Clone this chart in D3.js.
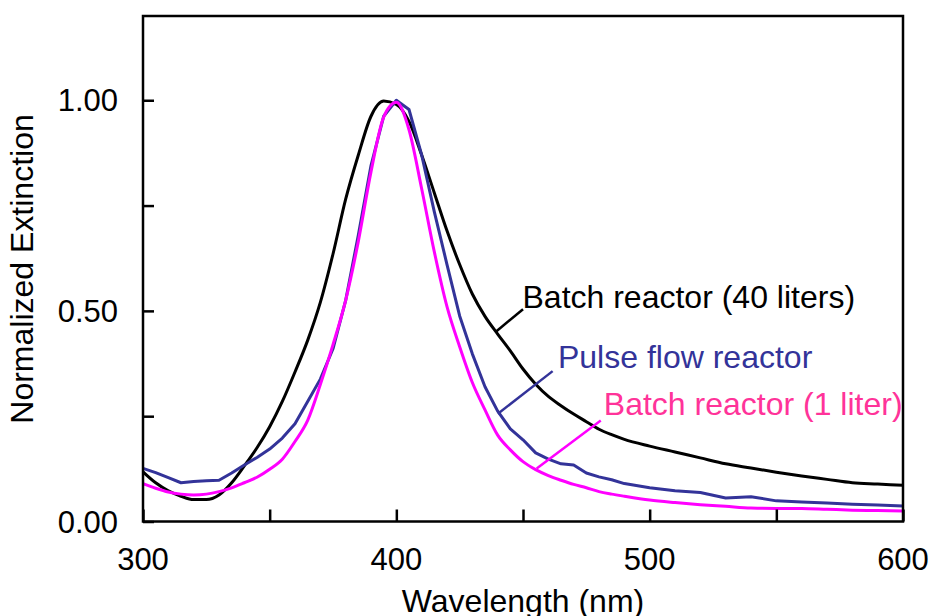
<!DOCTYPE html>
<html lang="en">
<head>
    <meta charset="UTF-8">
    <title>Normalized Extinction</title>
    <script src="https://d3js.org/d3.v7.min.js"></script>
    <style>
        body { margin:0; background:white; }
        text { font-family:"Liberation Sans", Arial, sans-serif; }
        .series { fill:none; stroke-width:3; stroke-linejoin:round; }
    </style>
</head>
<body>
    <script>
        // wavelength grid (nm) and normalized extinction
        var wavelengths = [300,305,310,315,320,325,330,335,340,345,350,355,360,365,370,375,380,385,390,395,
                           400,405,410,415,420,425,430,435,440,445,450,455,460,465,470,475,480,485,490,
                           500,510,520,530,540,550,560,570,580,590,600];

        var batch40 = [0.118,0.092,0.073,0.060,0.052,0.052,0.063,0.092,0.132,0.175,0.225,0.285,0.355,0.430,0.520,0.635,0.765,0.870,0.962,0.998,
                       0.990,0.950,0.870,0.780,0.690,0.610,0.540,0.487,0.445,0.405,0.362,0.326,0.297,0.275,0.255,0.237,0.219,0.206,0.195,
                       0.179,0.165,0.151,0.137,0.127,0.117,0.108,0.100,0.092,0.089,0.086];

        var pulseFlow = [0.126,0.116,0.104,0.092,0.095,0.097,0.098,0.115,0.134,0.152,0.172,0.198,0.232,0.285,0.338,0.410,0.525,0.680,0.845,0.962,
                         1.000,0.978,0.870,0.735,0.610,0.488,0.398,0.320,0.262,0.220,0.194,0.163,0.148,0.137,0.134,0.115,0.106,0.099,0.090,
                         0.080,0.073,0.069,0.056,0.059,0.049,0.046,0.044,0.041,0.039,0.037];

        var batch1 = [0.090,0.079,0.070,0.065,0.063,0.065,0.071,0.080,0.092,0.105,0.124,0.148,0.190,0.240,0.325,0.420,0.525,0.665,0.830,0.960,
                      0.995,0.930,0.790,0.640,0.510,0.415,0.330,0.265,0.205,0.170,0.142,0.123,0.109,0.098,0.088,0.080,0.071,0.065,0.060,
                      0.051,0.045,0.040,0.036,0.032,0.031,0.031,0.029,0.027,0.026,0.025];

        var xTicks = [300,350,400,450,500,550,600];
        var xLabels = [300,400,500,600];
        var yTicks = [0,0.25,0.5,0.75,1.0];
        var yLabels = [0,0.5,1.0];

        var seriesNames = ["Batch reactor (40 liters)","Pulse flow reactor","Batch reactor (1 liter)"];
        var seriesColors = ["#000000","#333399","#ff00ff"];
        var labelColors = ["#000000","#333399","#ff3399"];
        // label anchor [wavelength, extinction] and leader line from curve to label
        var labelAt = [[449.8,0.508],[463.8,0.365],[481.9,0.252]];
        var leaderFrom = [[439.4,0.451],[440.1,0.256],[455.4,0.126]];
        var leaderTo = [[450.0,0.504],[461.7,0.357],[480.7,0.240]];

        var width = 931, height = 616;
        var margin = {left:143, top:16, right:28, bottom:94.5};
        var w = width - margin.left - margin.right, h = height - margin.top - margin.bottom;

        var xscale = d3.scaleLinear().domain([300,600]).range([0,w]);
        var yscale = d3.scaleLinear().domain([0,1.2]).range([h,0]);

        var svg = d3.select("body").append("svg").attr("width",width).attr("height",height)
                    .append("g").attr("transform","translate("+margin.left+","+margin.top+")");

        var line = d3.line().x((d,i)=>xscale(wavelengths[i])).y(d=>yscale(d));
        var allSeries = [batch40, pulseFlow, batch1];

        allSeries.forEach((s,k)=>{
            line.curve(k==1 ? d3.curveLinear : d3.curveMonotoneX);
            svg.append("path").attr("class","series").attr("d",line(s)).style("stroke",seriesColors[k]);
        });

        // frame
        svg.append("rect").attr("width",w).attr("height",h)
           .style("fill","none").style("stroke","black").style("stroke-width",2.5);

        // inward ticks
        var xaxis = d3.axisBottom(xscale).tickValues(xTicks).tickSize(-12).tickFormat("");
        var yaxis = d3.axisLeft(yscale).tickValues(yTicks).tickSize(-11).tickFormat("");
        var gx = svg.append("g").attr("transform","translate(0,"+h+")").call(xaxis);
        var gy = svg.append("g").call(yaxis);
        [gx,gy].forEach(g=>{
            g.select(".domain").remove();
            g.selectAll("line").style("stroke","black").style("stroke-width",2.5);
        });

        svg.selectAll(".xl").data(xLabels).enter().append("text")
           .attr("x",d=>xscale(d)).attr("y",h+48.5).attr("text-anchor","middle")
           .style("font-size","31px").text(d=>d);

        svg.selectAll(".yl").data(yLabels).enter().append("text")
           .attr("x",-25).attr("y",d=>yscale(d)+11).attr("text-anchor","end")
           .style("font-size","31px").text(d=>d3.format(".2f")(d));

        svg.append("text").attr("x",w/2).attr("y",h+90).attr("text-anchor","middle")
           .style("font-size","32px").text("Wavelength (nm)");

        svg.append("text").attr("transform","translate(-110,"+(253)+") rotate(-90)")
           .attr("text-anchor","middle").style("font-size","32px").text("Normalized Extinction");

        // annotations
        seriesNames.forEach((name,k)=>{
            svg.append("line")
               .attr("x1",xscale(leaderFrom[k][0])).attr("y1",yscale(leaderFrom[k][1]))
               .attr("x2",xscale(leaderTo[k][0])).attr("y2",yscale(leaderTo[k][1]))
               .style("stroke",seriesColors[k]).style("stroke-width",2.5);
            svg.append("text").attr("x",xscale(labelAt[k][0])).attr("y",yscale(labelAt[k][1]))
               .style("font-size","32px").style("fill",labelColors[k]).text(name);
        });
    </script>
</body>
</html>
